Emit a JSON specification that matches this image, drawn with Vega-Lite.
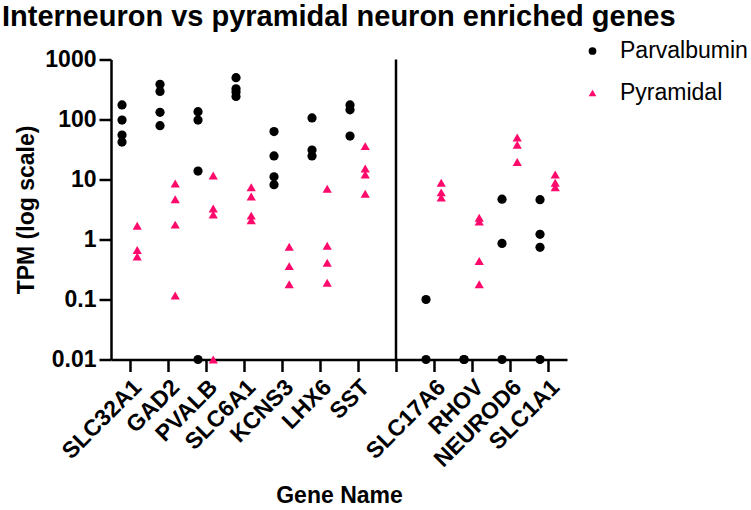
{
  "$schema": "https://vega.github.io/schema/vega-lite/v6.json",
  "width": 456,
  "height": 300,
  "autosize": {"type": "none"},
  "padding": {"left": 111, "top": 59.5, "right": 184, "bottom": 150.5},
  "background": "white",
  "config": {
    "font": "Liberation Sans",
    "view": {"stroke": null}
  },
  "title": {
    "text": "Interneuron vs pyramidal neuron enriched genes",
    "anchor": "start",
    "frame": "group",
    "dx": -109,
    "baseline": "alphabetic",
    "offset": -15,
    "fontSize": 29,
    "fontWeight": "bold",
    "font": "Liberation Sans",
    "color": "black"
  },
  "datasets": {
    "sep": [{"gene": " "}],
    "pts": [
      {"gene": "SLC32A1", "group": "Parvalbumin", "tpm": 175},
      {"gene": "SLC32A1", "group": "Parvalbumin", "tpm": 98},
      {"gene": "SLC32A1", "group": "Parvalbumin", "tpm": 55},
      {"gene": "SLC32A1", "group": "Parvalbumin", "tpm": 42},
      {"gene": "SLC32A1", "group": "Pyramidal", "tpm": 1.7},
      {"gene": "SLC32A1", "group": "Pyramidal", "tpm": 0.67},
      {"gene": "SLC32A1", "group": "Pyramidal", "tpm": 0.52},
      {"gene": "GAD2", "group": "Parvalbumin", "tpm": 385},
      {"gene": "GAD2", "group": "Parvalbumin", "tpm": 294},
      {"gene": "GAD2", "group": "Parvalbumin", "tpm": 132},
      {"gene": "GAD2", "group": "Parvalbumin", "tpm": 79},
      {"gene": "GAD2", "group": "Pyramidal", "tpm": 8.6},
      {"gene": "GAD2", "group": "Pyramidal", "tpm": 4.7},
      {"gene": "GAD2", "group": "Pyramidal", "tpm": 1.77},
      {"gene": "GAD2", "group": "Pyramidal", "tpm": 0.117},
      {"gene": "PVALB", "group": "Parvalbumin", "tpm": 135},
      {"gene": "PVALB", "group": "Parvalbumin", "tpm": 98},
      {"gene": "PVALB", "group": "Parvalbumin", "tpm": 13.8},
      {"gene": "PVALB", "group": "Parvalbumin", "tpm": 0.01},
      {"gene": "PVALB", "group": "Pyramidal", "tpm": 11.7},
      {"gene": "PVALB", "group": "Pyramidal", "tpm": 3.3},
      {"gene": "PVALB", "group": "Pyramidal", "tpm": 2.6},
      {"gene": "PVALB", "group": "Pyramidal", "tpm": 0.01},
      {"gene": "SLC6A1", "group": "Parvalbumin", "tpm": 498},
      {"gene": "SLC6A1", "group": "Parvalbumin", "tpm": 325},
      {"gene": "SLC6A1", "group": "Parvalbumin", "tpm": 287},
      {"gene": "SLC6A1", "group": "Parvalbumin", "tpm": 242},
      {"gene": "SLC6A1", "group": "Pyramidal", "tpm": 7.4},
      {"gene": "SLC6A1", "group": "Pyramidal", "tpm": 5.2},
      {"gene": "SLC6A1", "group": "Pyramidal", "tpm": 2.5},
      {"gene": "SLC6A1", "group": "Pyramidal", "tpm": 2.1},
      {"gene": "KCNS3", "group": "Parvalbumin", "tpm": 63},
      {"gene": "KCNS3", "group": "Parvalbumin", "tpm": 24.7},
      {"gene": "KCNS3", "group": "Parvalbumin", "tpm": 11.1},
      {"gene": "KCNS3", "group": "Parvalbumin", "tpm": 8.2},
      {"gene": "KCNS3", "group": "Pyramidal", "tpm": 0.76},
      {"gene": "KCNS3", "group": "Pyramidal", "tpm": 0.36},
      {"gene": "KCNS3", "group": "Pyramidal", "tpm": 0.18},
      {"gene": "LHX6", "group": "Parvalbumin", "tpm": 106},
      {"gene": "LHX6", "group": "Parvalbumin", "tpm": 31},
      {"gene": "LHX6", "group": "Parvalbumin", "tpm": 24.7},
      {"gene": "LHX6", "group": "Pyramidal", "tpm": 7.0},
      {"gene": "LHX6", "group": "Pyramidal", "tpm": 0.79},
      {"gene": "LHX6", "group": "Pyramidal", "tpm": 0.41},
      {"gene": "LHX6", "group": "Pyramidal", "tpm": 0.19},
      {"gene": "SST", "group": "Parvalbumin", "tpm": 175},
      {"gene": "SST", "group": "Parvalbumin", "tpm": 145},
      {"gene": "SST", "group": "Parvalbumin", "tpm": 53},
      {"gene": "SST", "group": "Pyramidal", "tpm": 36},
      {"gene": "SST", "group": "Pyramidal", "tpm": 15.3},
      {"gene": "SST", "group": "Pyramidal", "tpm": 12.1},
      {"gene": "SST", "group": "Pyramidal", "tpm": 5.8},
      {"gene": "SLC17A6", "group": "Parvalbumin", "tpm": 0.1},
      {"gene": "SLC17A6", "group": "Parvalbumin", "tpm": 0.01},
      {"gene": "SLC17A6", "group": "Pyramidal", "tpm": 8.8},
      {"gene": "SLC17A6", "group": "Pyramidal", "tpm": 6.1},
      {"gene": "SLC17A6", "group": "Pyramidal", "tpm": 5.0},
      {"gene": "RHOV", "group": "Parvalbumin", "tpm": 0.01},
      {"gene": "RHOV", "group": "Parvalbumin", "tpm": 0.01},
      {"gene": "RHOV", "group": "Pyramidal", "tpm": 2.3},
      {"gene": "RHOV", "group": "Pyramidal", "tpm": 2.0},
      {"gene": "RHOV", "group": "Pyramidal", "tpm": 0.44},
      {"gene": "RHOV", "group": "Pyramidal", "tpm": 0.18},
      {"gene": "NEUROD6", "group": "Parvalbumin", "tpm": 4.7},
      {"gene": "NEUROD6", "group": "Parvalbumin", "tpm": 0.86},
      {"gene": "NEUROD6", "group": "Parvalbumin", "tpm": 0.01},
      {"gene": "NEUROD6", "group": "Pyramidal", "tpm": 50},
      {"gene": "NEUROD6", "group": "Pyramidal", "tpm": 38},
      {"gene": "NEUROD6", "group": "Pyramidal", "tpm": 19.5},
      {"gene": "SLC1A1", "group": "Parvalbumin", "tpm": 4.6},
      {"gene": "SLC1A1", "group": "Parvalbumin", "tpm": 1.22},
      {"gene": "SLC1A1", "group": "Parvalbumin", "tpm": 0.74},
      {"gene": "SLC1A1", "group": "Parvalbumin", "tpm": 0.01},
      {"gene": "SLC1A1", "group": "Pyramidal", "tpm": 12.1},
      {"gene": "SLC1A1", "group": "Pyramidal", "tpm": 8.8},
      {"gene": "SLC1A1", "group": "Pyramidal", "tpm": 7.4}
    ]
  },
  "encoding": {
    "x": {
      "field": "gene",
      "type": "nominal",
      "scale": {
        "type": "band",
        "domain": ["SLC32A1", "GAD2", "PVALB", "SLC6A1", "KCNS3", "LHX6", "SST", " ", "SLC17A6", "RHOV", "NEUROD6", "SLC1A1"],
        "paddingInner": 0,
        "paddingOuter": 0
      },
      "axis": {
        "title": "Gene Name",
        "titleFontSize": 23,
        "titleFontWeight": "bold",
        "titleColor": "black",
        "titlePadding": 13,
        "labelAngle": -45,
        "labelFontSize": 23,
        "labelFontWeight": "bold",
        "labelColor": "black",
        "labelPadding": 4,
        "domainColor": "black",
        "domainWidth": 2.5,
        "tickColor": "black",
        "tickWidth": 2.5,
        "tickSize": 12,
        "grid": false
      }
    }
  },
  "layer": [
    {
      "data": {"name": "sep"},
      "mark": {"type": "rule", "color": "black", "strokeWidth": 2.5},
      "encoding": {
        "y": {"datum": 0.01, "type": "quantitative", "scale": {"type": "log", "domain": [0.01, 1000]}},
        "y2": {"datum": 1000}
      }
    },
    {
      "data": {"name": "pts"},
      "transform": [{"filter": "datum.group === 'Parvalbumin'"}],
      "mark": {"type": "point", "filled": true, "opacity": 1, "size": 85},
      "encoding": {
        "x": {"field": "gene", "type": "nominal", "bandPosition": 0.29},
        "y": {
          "field": "tpm",
          "type": "quantitative",
          "scale": {"type": "log", "domain": [0.01, 1000]},
          "axis": {
            "title": "TPM (log scale)",
            "titleFontSize": 23,
            "titleFontWeight": "bold",
            "titleColor": "black",
            "titlePadding": 6,
            "values": [0.01, 0.1, 1, 10, 100, 1000],
            "format": "~g",
            "labelFontSize": 23,
            "labelFontWeight": "bold",
            "labelColor": "black",
            "labelPadding": 3,
            "domainColor": "black",
            "domainWidth": 2.5,
            "tickColor": "black",
            "tickWidth": 2.5,
            "tickSize": 12,
            "grid": false
          }
        },
        "color": {
          "field": "group",
          "type": "nominal",
          "scale": {"domain": ["Parvalbumin", "Pyramidal"], "range": ["black", "#FF0A6C"]},
          "legend": {
            "title": null,
            "orient": "none",
            "legendX": 470,
            "legendY": -20,
            "labelFontSize": 23,
            "labelColor": "black",
            "labelOffset": 16,
            "rowPadding": 18,
            "symbolSize": 60
          }
        },
        "shape": {
          "field": "group",
          "type": "nominal",
          "scale": {"domain": ["Parvalbumin", "Pyramidal"], "range": ["circle", "triangle-up"]}
        }
      }
    },
    {
      "data": {"name": "pts"},
      "transform": [{"filter": "datum.group === 'Pyramidal'"}],
      "mark": {"type": "point", "filled": true, "opacity": 1, "size": 85},
      "encoding": {
        "x": {"field": "gene", "type": "nominal", "bandPosition": 0.69},
        "y": {"field": "tpm", "type": "quantitative"},
        "color": {"field": "group", "type": "nominal"},
        "shape": {"field": "group", "type": "nominal"}
      }
    }
  ]
}
